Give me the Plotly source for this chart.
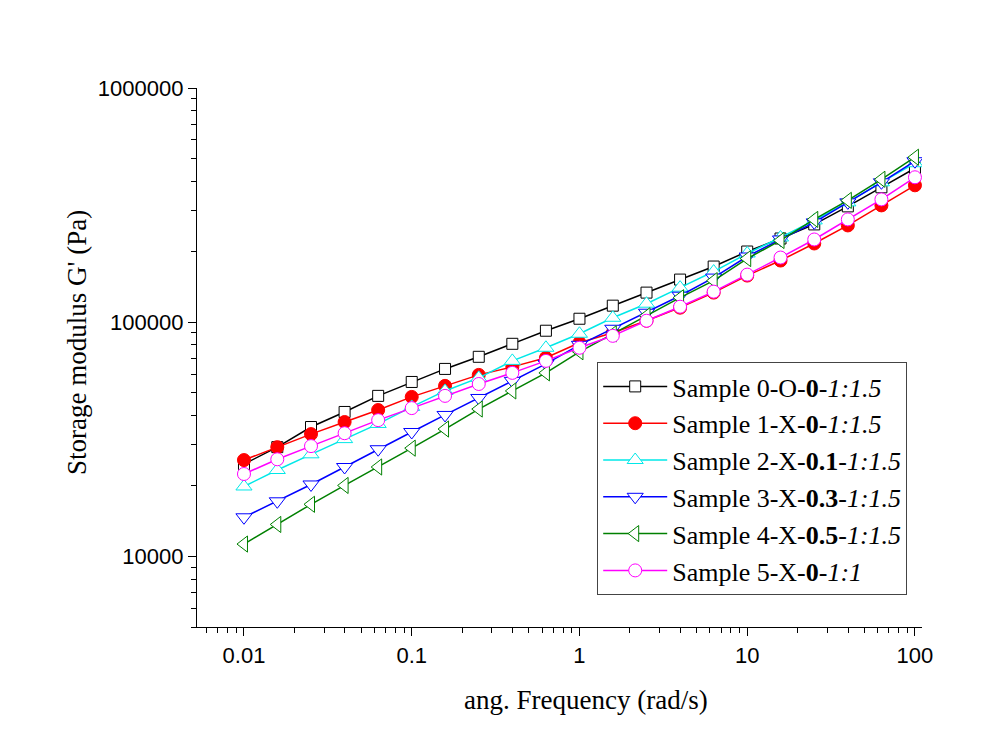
import plotly.graph_objects as go

freq = [0.01, 0.0158, 0.0251, 0.0398, 0.0631, 0.1, 0.158, 0.251, 0.398, 0.631,
        1, 1.58, 2.51, 3.98, 6.31, 10, 15.8, 25.1, 39.8, 63.1, 100]

s0 = [24800, 29300, 35700, 41400, 48500, 55600, 63200, 71200, 80900, 92000,
      103500, 117700, 133800, 152100, 172900, 200400, 227800, 261600, 312300, 376700, 454400]
s1 = [25800, 29300, 33300, 37500, 42200, 48000, 53500, 59600, 64500, 70500,
      81700, 90200, 101500, 115400, 133800, 158200, 183400, 216900, 259000, 315400, 384200]
s2 = [19900, 23400, 27300, 31700, 36800, 43500, 50900, 57900, 68400, 77800,
      89300, 104500, 120000, 140500, 164600, 196600, 230100, 272100, 324900, 395700, 477400]
s3 = [14700, 17200, 20300, 24100, 28700, 34000, 40200, 47500, 56200, 66400,
      80100, 93800, 109800, 129800, 155100, 190800, 225600, 266800, 324900, 395700, 486900]
s4 = [11300, 13700, 16700, 20100, 24100, 29000, 35000, 42600, 50900, 60800,
      74800, 89300, 106600, 127300, 150500, 187000, 223400, 274800, 331300, 407700, 506300]
s5 = [22500, 26000, 29600, 33600, 38200, 43000, 48500, 54500, 60800, 68400,
      77800, 87500, 101500, 116500, 135100, 159700, 188900, 225600, 274800, 334600, 415800]

x_ticks = [0.01, 0.1, 1, 10, 100]
x_ticklabels = ["0.01", "0.1", "1", "10", "100"]
y_ticks = [10000, 100000, 1000000]
y_ticklabels = ["10000", "100000", "1000000"]
x_minor = [m * d for d in [0.001, 0.01, 0.1, 1, 10, 100] for m in range(2, 10)]
y_minor = [m * d for d in [1000, 10000, 100000] for m in range(2, 10)]

names = [
    "Sample 0-O-<b>0</b>-<i>1:1.5</i>",
    "Sample 1-X-<b>0</b>-<i>1:1.5</i>",
    "Sample 2-X-<b>0.1</b>-<i>1:1.5</i>",
    "Sample 3-X-<b>0.3</b>-<i>1:1.5</i>",
    "Sample 4-X-<b>0.5</b>-<i>1:1.5</i>",
    "Sample 5-X-<b>0</b>-<i>1:1</i>",
]
series = [s0, s1, s2, s3, s4, s5]
colors = ["#000000", "#FF0000", "#00E8E8", "#0000FF", "#008000", "#FF00FF"]
symbols = ["square", "circle", "triangle-up", "triangle-down", "triangle-left", "circle"]
fills = ["white", "#FF0000", "white", "white", "white", "white"]
sizes = [11, 13, 14, 14, 14, 13]

fig = go.Figure()
for nm, ys, c, sym, f, sz in zip(names, series, colors, symbols, fills, sizes):
    fig.add_trace(go.Scatter(
        x=freq, y=ys, name=nm, mode="lines+markers",
        line=dict(color=c, width=1.5),
        marker=dict(symbol=sym, size=sz, color=f, line=dict(color=c, width=1)),
    ))

def axis_common(minor_vals):
    return dict(
        type="log", showline=True, linecolor="black", linewidth=1.3,
        ticks="outside", ticklen=8, tickwidth=1.3, tickcolor="black",
        showgrid=False, zeroline=False, mirror=False,
        tickfont=dict(family="Liberation Sans, Arial", size=22, color="black"),
        minor=dict(ticks="outside", ticklen=5, tickwidth=1.2, tickcolor="black",
                   showgrid=False, tickmode="array", tickvals=minor_vals),
    )

title_font = dict(family="Liberation Serif, Times New Roman", size=27, color="black")

fig.update_layout(
    width=1007, height=746,
    margin=dict(l=197, r=85, t=88, b=119),
    paper_bgcolor="white", plot_bgcolor="white",
    xaxis=dict(axis_common(x_minor), range=[-2.28, 2.042],
               tickmode="array", tickvals=x_ticks, ticktext=x_ticklabels),
    yaxis=dict(axis_common(y_minor), range=[3.69897, 6],
               tickmode="array", tickvals=y_ticks, ticktext=y_ticklabels),
    legend=dict(x=0.552, y=0.2755, xanchor="left", yanchor="middle",
                bgcolor="white", bordercolor="#444444", borderwidth=1,
                font=dict(family="Liberation Serif, Times New Roman", size=26, color="black"),
                itemwidth=64, tracegroupgap=0),
    showlegend=True,
    annotations=[
        dict(text="ang. Frequency (rad/s)", xref="paper", yref="paper",
             x=0.5366, y=0, xanchor="center", yanchor="middle", yshift=-73,
             showarrow=False, font=title_font),
        dict(text="Storage modulus G' (Pa)", xref="paper", yref="paper",
             x=0, y=0.527, xanchor="center", yanchor="middle", xshift=-120,
             textangle=-90, showarrow=False, font=title_font),
    ],
)

fig.write_html("out.html")
